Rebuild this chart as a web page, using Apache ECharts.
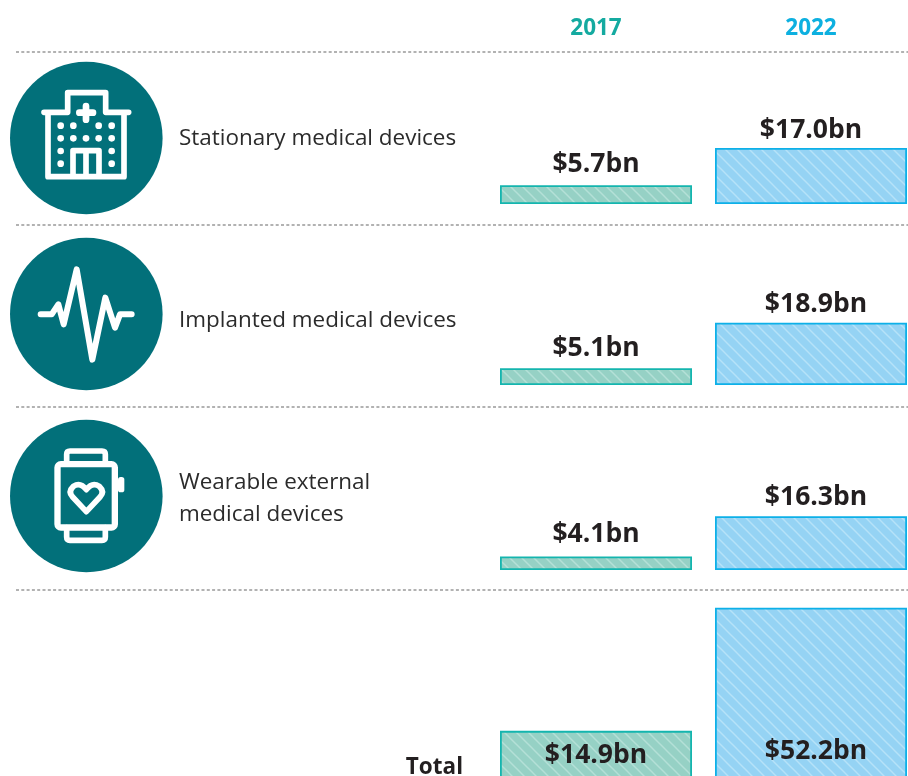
<!DOCTYPE html>
<html><head><meta charset="utf-8">
<style>html,body{margin:0;padding:0;background:#fff}#c{width:908px;height:776px}</style>
<script src="https://cdn.jsdelivr.net/npm/echarts@6/dist/echarts.min.js"></script>
</head><body><div id="c"></div>
<script>
const years = ['2017', '2022'];
const rowNames = ['Stationary medical devices', 'Implanted medical devices', 'Wearable external\nmedical devices', 'Total'];
const values2017 = [5.7, 5.1, 4.1, 14.9];
const values2022 = [17.0, 18.9, 16.3, 52.2];

const FONT = '"Open Sans","Noto Sans",sans-serif';
const TEAL = '#02707A', INK = '#231F20';
const baselines = [204, 385, 570, 780];
const PX_PER_BN = 3.3, AXIS_MAX = 60;
const gridH = AXIS_MAX * PX_PER_BN;
const labelNudge = [[[0, -1], [0, 2]], [[0, 0], [5, 1]], [[0, -3], [5, 1]], [[0, 0], [5, 0]]];

function hatch(bg, line) {
  const s = 12, c = document.createElement('canvas');
  c.width = s; c.height = s;
  const x = c.getContext('2d');
  x.fillStyle = bg; x.fillRect(0, 0, s, s);
  x.strokeStyle = line; x.lineWidth = 1.5;
  [[-s, 0, s, 2 * s], [0, 0, s, s], [0, -s, 2 * s, s]].forEach(p => {
    x.beginPath(); x.moveTo(p[0], p[1]); x.lineTo(p[2], p[3]); x.stroke();
  });
  return { image: c, repeat: 'repeat' };
}
const fill = [hatch('#96D1C5', '#B4E0D7'), hatch('#95D3F4', '#B6E2F8')];
const border = ['#14B5AE', '#0DB0E8'];

const grids = [], xAxes = [], yAxes = [], series = [];
baselines.forEach((b, i) => {
  grids.push({ left: 488.5, width: 430, top: b - gridH, height: gridH, outerBoundsMode: 'none', containLabel: false });
  xAxes.push({
    gridIndex: i, type: 'category', data: years,
    axisLine: { show: false }, axisTick: { show: false },
    axisLabel: { show: false }
  });
  yAxes.push({ gridIndex: i, type: 'value', min: 0, max: AXIS_MAX, show: false });
  const inside = i === 3;
  series.push({
    type: 'bar', xAxisIndex: i, yAxisIndex: i, barWidth: 192, silent: true, animation: false,
    data: [
      { value: values2017[i], itemStyle: { color: fill[0], borderColor: border[0], borderWidth: 1.8 }, label: { offset: labelNudge[i][0], distance: inside ? 11 : 6 } },
      { value: values2022[i], itemStyle: { color: fill[1], borderColor: border[1], borderWidth: 1.8 }, label: { offset: labelNudge[i][1], distance: inside ? 15 : 6 } }
    ],
    label: {
      show: true, position: inside ? 'insideBottom' : 'top',
      formatter: p => '$' + p.value.toFixed(1) + 'bn',
      fontFamily: FONT, fontWeight: 700, fontSize: 26.5, color: INK
    }
  });
});

// Separators
const graphic = [];
[52, 225, 407, 590].forEach(y => graphic.push({
  type: 'line', shape: { x1: 16, y1: y, x2: 908, y2: y },
  style: { stroke: '#999999', lineWidth: 1.3, lineDash: [3, 2.3] }
}));

// Column headings
years.forEach((t, i) => graphic.push({
  type: 'text', x: [596, 811][i], y: 29,
  style: { text: t, fontFamily: FONT, fontWeight: 700, fontSize: 22.5, fill: ['#14AAA0', '#0DB0E0'][i], align: 'center', verticalAlign: 'middle' }
}));

// Row names
[[179, 139], [179, 321], [179, 499]].forEach((p, i) => graphic.push({
  type: 'text', x: p[0], y: p[1],
  style: { text: rowNames[i], fontFamily: FONT, fontSize: 22.45, lineHeight: 32, fill: '#2B2B2B', align: 'left', verticalAlign: 'middle' }
}));
graphic.push({
  type: 'text', x: 463, y: 768,
  style: { text: rowNames[3], fontFamily: FONT, fontWeight: 700, fontSize: 22.5, fill: INK, align: 'right', verticalAlign: 'middle' }
});

// Icons
[138, 314, 496].forEach(cy => graphic.push({
  type: 'circle', shape: { cx: 86.3, cy, r: 76.3 }, style: { fill: TEAL }
}));
const S = { fill: null, stroke: '#fff', lineCap: 'round', lineJoin: 'round' };
let shapeCount = 0;
const pathEl = (d, lw, extra) => {
  const name = 'iconPath' + (shapeCount++);
  echarts.graphic.registerShape(name, echarts.graphic.extendPath(d, {}));
  return { type: name, style: Object.assign({}, S, { lineWidth: lw }, extra || {}) };
};
const dots = [[182,227],[220,227],[296,227],[335,227],[182,265],[220,265],[258,265],[296,265],[335,265],[182,303],[335,303],[182,341],[335,341]];
graphic.push({
  type: 'group', x: 0, y: 50, scaleX: 1 / 3, scaleY: 1 / 3,
  children: [
    pathEl('M132 187 H203 V128 H317 V187 H386', 17),
    pathEl('M144 190 V380 H372 V190', 17),
    pathEl('M219 378 V302 H297 V378 M258 302 V378', 17, { lineCap: 'butt' }),
    pathEl('M258 168 V209 M238 188 H279', 20)
  ].concat(dots.map(d => ({ type: 'circle', shape: { cx: d[0], cy: d[1], r: 10 }, style: { fill: '#fff' } })))
});
graphic.push({
  type: 'group', x: 0, y: 235, scaleX: 1 / 3, scaleY: 1 / 3,
  children: [pathEl('M122 238 H155 L175 208 L191 268 L230 103 L277 374 L316 188 L345 278 L360 238 H395', 18)]
});
graphic.push({
  type: 'group', x: 0, y: 415, scaleX: 1 / 3, scaleY: 1 / 3,
  children: [
    { type: 'rect', shape: { x: 172.5, y: 147.5, width: 172, height: 190, r: 10 }, style: { fill: null, stroke: '#fff', lineWidth: 19 } },
    pathEl('M200 147 V118 Q200 108 210 108 H306 Q316 108 316 118 V147', 17),
    pathEl('M200 338 V366 Q200 376 210 376 H306 Q316 376 316 366 V338', 17),
    { type: 'rect', shape: { x: 354, y: 186, width: 19, height: 46, r: 8 }, style: { fill: '#fff' } },
    pathEl('M259 290 L218 246 Q203 230 220 214 Q241 200 259 224 Q277 200 298 214 Q315 230 300 246 Z', 17)
  ]
});

const chart = echarts.init(document.getElementById('c'), null, { renderer: 'canvas', width: 908, height: 776 });
chart.setOption({
  animation: false, backgroundColor: '#fff',
  grid: grids, xAxis: xAxes, yAxis: yAxes, series, graphic
});
</script></body></html>
